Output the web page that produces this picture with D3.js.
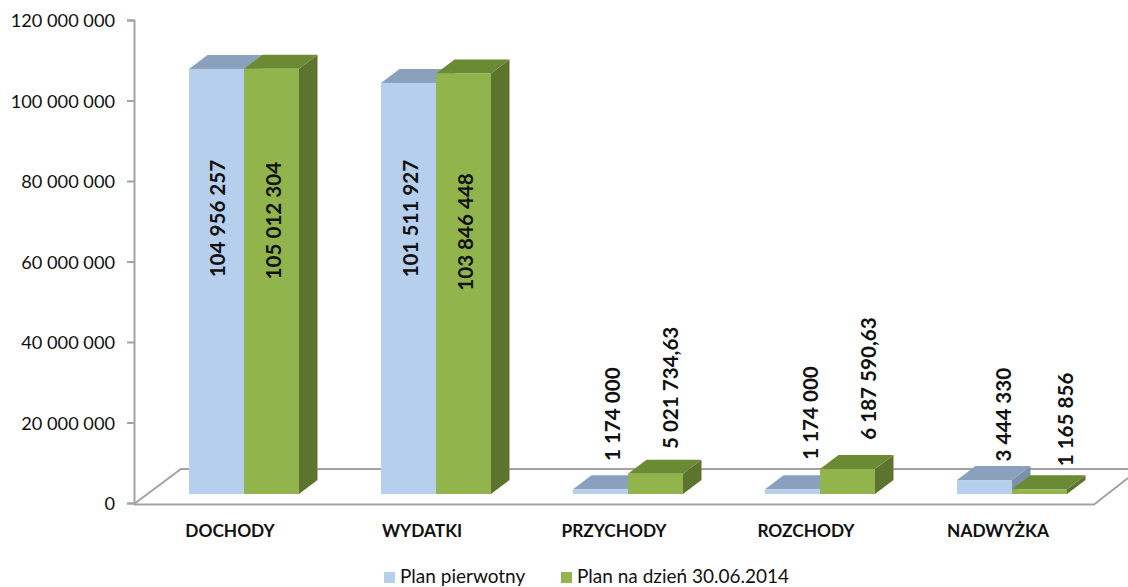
<!DOCTYPE html>
<html lang="pl">
<head>
<meta charset="utf-8">
<script src="https://cdnjs.cloudflare.com/ajax/libs/d3/7.9.0/d3.min.js"></script>
<style>
  html, body { margin: 0; padding: 0; background: #fff; }
  svg { display: block; }
  text { font-family: Lato, "Open Sans", sans-serif; fill: #111; }
</style>
</head>
<body>
<svg id="chart" width="1128" height="587"></svg>
<script>
// Budget plan: original plan against the plan as of 30.06.2014
const categories = ["DOCHODY", "WYDATKI", "PRZYCHODY", "ROZCHODY", "NADWYŻKA"];
const seriesNames = ["Plan pierwotny", "Plan na dzień 30.06.2014"];
const planPierwotny = [104956257, 101511927, 1174000, 1174000, 3444330];
const planCzerwiec = [105012304, 103846448, 5021734.63, 6187590.63, 1165856];
const labelsPierwotny = ["104 956 257", "101 511 927", "1 174 000", "1 174 000", "3 444 330"];
const labelsCzerwiec = ["105 012 304", "103 846 448", "5 021 734,63", "6 187 590,63", "1 165 856"];
const tickValues = [0, 20000000, 40000000, 60000000, 80000000, 100000000, 120000000];

// Hand-placed data labels: centre on the value axis, sideways nudge from the bar centre
const labelLevelPierwotny = [68000000, 68000000, 19700000, 20000000, 19600000];
const labelLevelCzerwiec = [67500000, 64700000, 26200000, 28500000, 18400000];
const labelNudgePierwotny = [1, 2, 12, 18, 19];
const labelNudgeCzerwiec = [2, 2, 15, 21, 26];

const palette = [
  { front: "#b6cfec", top: "#8aa1bd", side: "#7c90ac" },
  { front: "#92b44c", top: "#6b8a34", side: "#5d742e" }
];
const axisColor = "#a3a3a3";
const depth = { x: 18.5, y: 14 };

const svg = d3.select("#chart");
const fmtTick = d => d3.format(",")(d).replace(/,/g, " ");

// Axis scale sits on the front wall edge; bars stand further back on the floor
const yAxisScale = d3.scaleLinear().domain([0, 120000000]).range([503, 20]);
const yBar = d3.scaleLinear().domain([0, 120000000]).range([494, 8]);
const x0 = d3.scaleBand().domain(categories).range([148, 1108]);
const x1 = d3.scaleBand().domain(seriesNames).range([41, 151]);

// Floor of the 3D plot
const floor = svg.append("g").attr("fill", "none").attr("stroke", axisColor).attr("stroke-width", 2);
floor.append("path").attr("d", d3.line()([[134, 504], [181, 469], [1128, 469]]));
floor.append("path").attr("d", d3.line()([[134, 504.5], [1094, 504.5], [1128, 478]]));

// Value axis
const axis = svg.append("g").attr("transform", "translate(134,0)")
  .call(d3.axisLeft(yAxisScale).tickValues(tickValues).tickFormat(fmtTick).tickSize(7).tickPadding(12));
axis.select(".domain").attr("stroke", axisColor).attr("stroke-width", 2);
axis.selectAll(".tick line").attr("stroke", axisColor).attr("stroke-width", 2);
axis.selectAll("text").style("font-size", "18.2px").style("font-family", "Lato, sans-serif")
  .attr("fill", "#222").attr("dy", "0.38em");

// One cuboid per value
function drawBars(values, seriesIndex) {
  const colors = palette[seriesIndex];
  const g = svg.append("g");
  const left = (d, i) => x0(categories[i]) + x1(seriesNames[seriesIndex]);
  const w = x1.bandwidth();
  const base = yBar(0);
  g.selectAll("path.side").data(values).join("path").attr("class", "side")
    .attr("fill", colors.side)
    .attr("d", (d, i) => {
      const r = left(d, i) + w, t = yBar(d);
      return d3.line()([[r, t], [r + depth.x, t - depth.y], [r + depth.x, base - depth.y], [r, base]]) + "Z";
    });
  g.selectAll("path.top").data(values).join("path").attr("class", "top")
    .attr("fill", colors.top)
    .attr("d", (d, i) => {
      const l = left(d, i), t = yBar(d);
      return d3.line()([[l, t], [l + depth.x, t - depth.y], [l + w + depth.x, t - depth.y], [l + w, t]]) + "Z";
    });
  g.selectAll("rect").data(values).join("rect")
    .attr("fill", colors.front)
    .attr("x", (d, i) => left(d, i))
    .attr("y", d => yBar(d))
    .attr("width", w)
    .attr("height", d => base - yBar(d));
}
drawBars(planPierwotny, 0);
drawBars(planCzerwiec, 1);

// Rotated data labels
function drawLabels(texts, levels, nudges, seriesIndex) {
  svg.append("g").selectAll("text").data(texts).join("text")
    .attr("transform", (d, i) => {
      const cx = x0(categories[i]) + x1(seriesNames[seriesIndex]) + x1.bandwidth() / 2 + nudges[i];
      return `translate(${cx},${yBar(levels[i])}) rotate(-90)`;
    })
    .attr("text-anchor", "middle")
    .attr("dy", "0.35em")
    .style("font-size", "20.6px")
    .style("font-weight", 700)
    .text(d => d);
}
drawLabels(labelsPierwotny, labelLevelPierwotny, labelNudgePierwotny, 0);
drawLabels(labelsCzerwiec, labelLevelCzerwiec, labelNudgeCzerwiec, 1);

// Category names
svg.append("g").selectAll("text").data(categories).join("text")
  .attr("x", d => x0(d) + x0.bandwidth() / 2 - 14)
  .attr("y", 537)
  .attr("text-anchor", "middle")
  .style("font-size", "17.3px")
  .style("font-weight", 700)
  .text(d => d);

// Legend
const legendX = [384, 561];
const legend = svg.append("g").selectAll("g").data(seriesNames).join("g")
  .attr("transform", (d, i) => `translate(${legendX[i]},572)`);
legend.append("rect").attr("width", 11).attr("height", 11).attr("fill", (d, i) => palette[i].front);
legend.append("text").attr("x", 16).attr("y", 11).style("font-size", "19px").attr("fill", "#222").text(d => d);
</script>
</body>
</html>
